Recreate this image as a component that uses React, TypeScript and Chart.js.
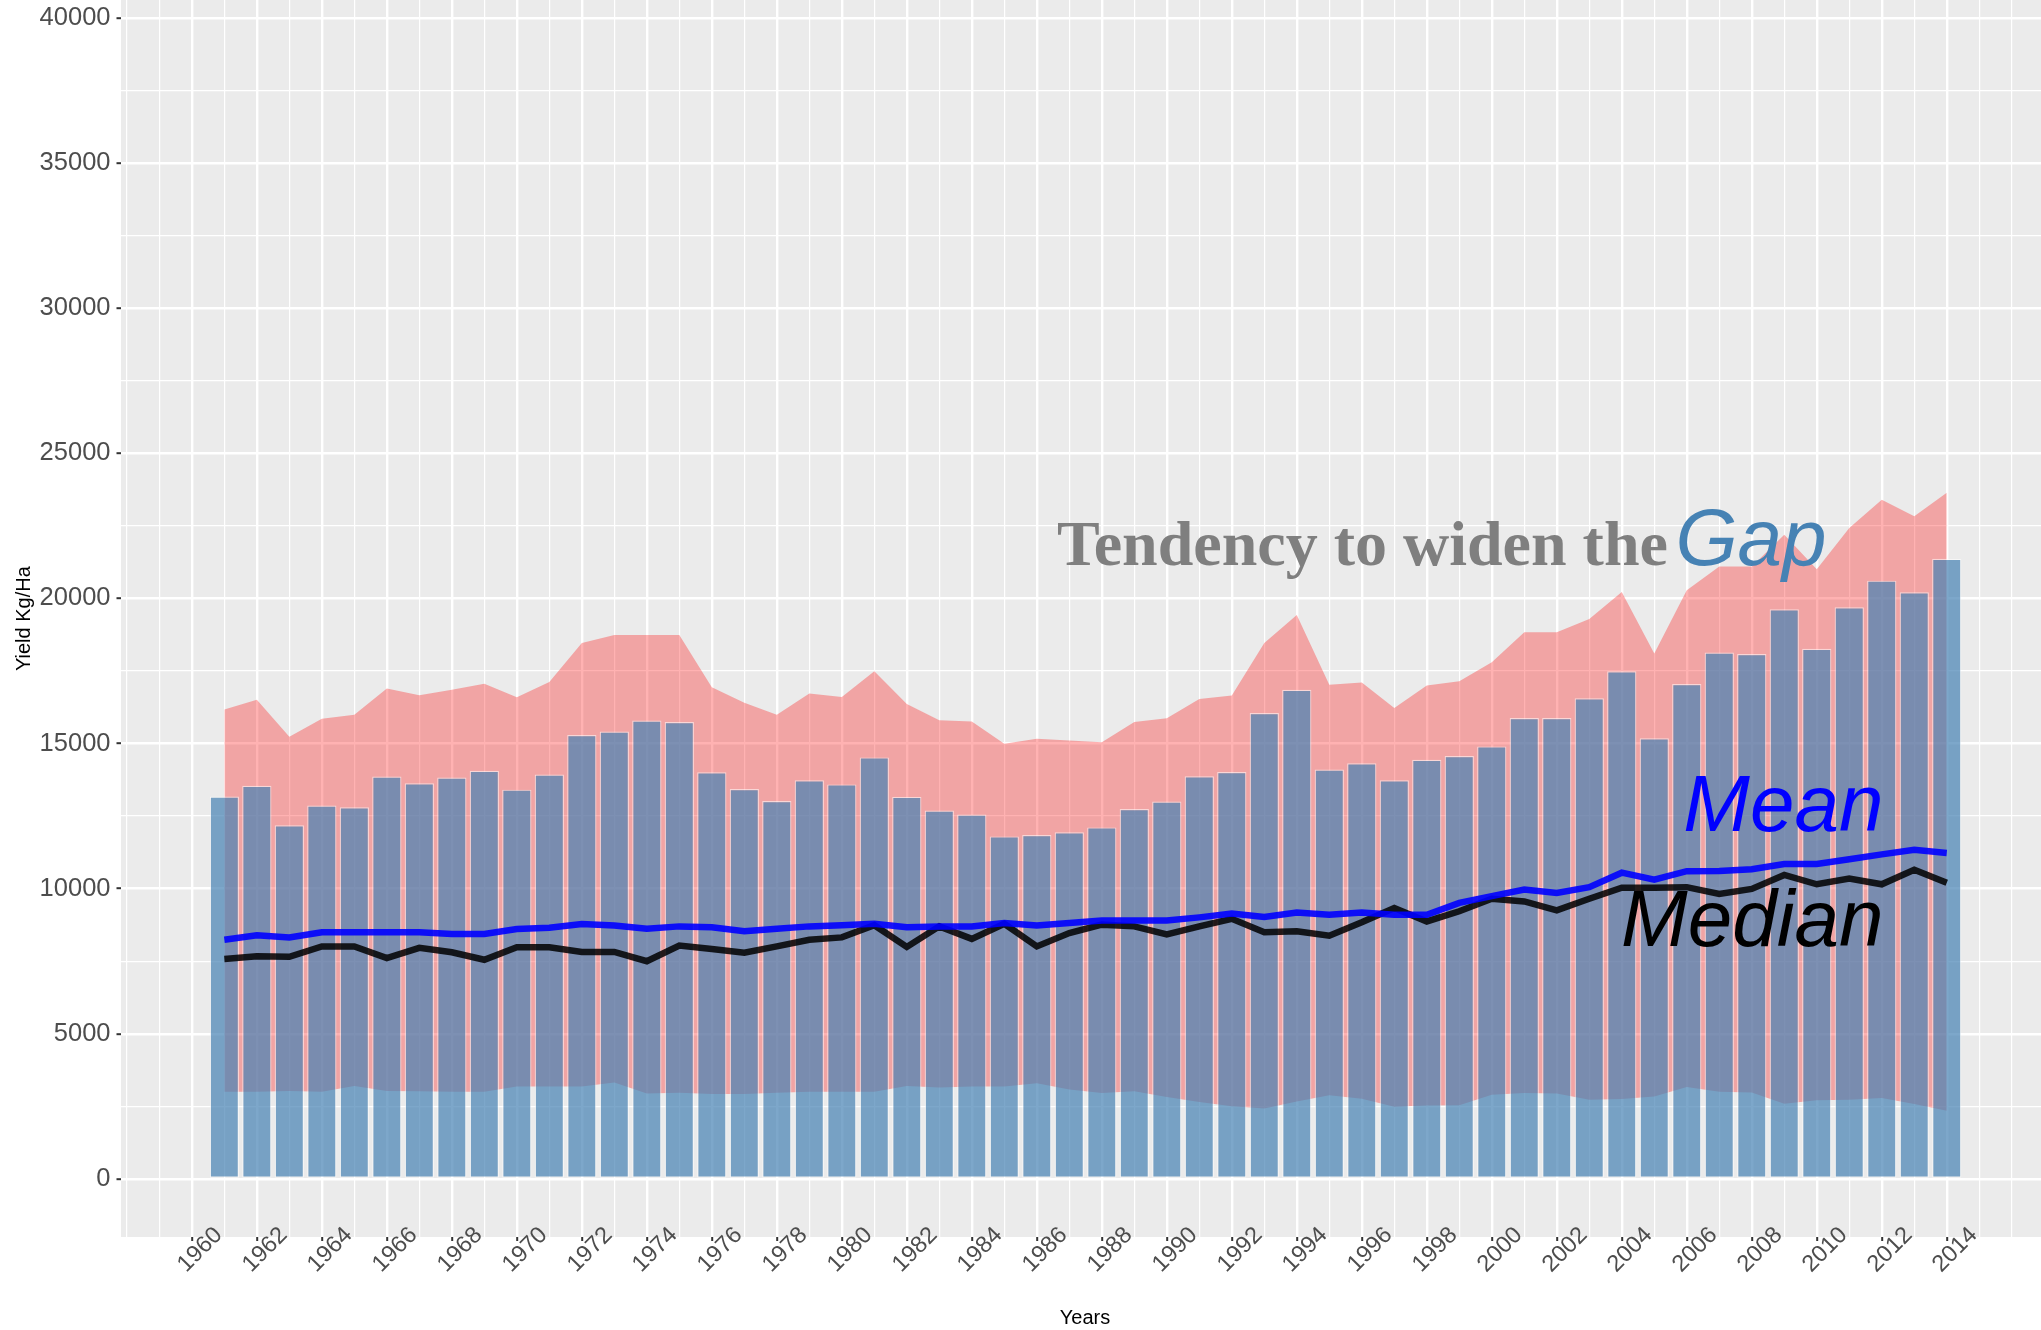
import React, { useEffect, useRef } from 'react';
import { Chart, registerables } from 'chart.js';

Chart.register(...registerables);

// ---- data ----
const years = [
  1961, 1962, 1963, 1964, 1965, 1966, 1967, 1968, 1969, 1970,
  1971, 1972, 1973, 1974, 1975, 1976, 1977, 1978, 1979, 1980,
  1981, 1982, 1983, 1984, 1985, 1986, 1987, 1988, 1989, 1990,
  1991, 1992, 1993, 1994, 1995, 1996, 1997, 1998, 1999, 2000,
  2001, 2002, 2003, 2004, 2005, 2006, 2007, 2008, 2009, 2010,
  2011, 2012, 2013, 2014,
];

const barYield = [
  13170, 13540, 12180, 12860, 12800, 13860, 13630, 13830, 14060, 13410,
  13930, 15290, 15410, 15790, 15740, 14010, 13430, 13020, 13730, 13590,
  14520, 13160, 12690, 12550, 11800, 11850, 11940, 12110, 12740, 13000,
  13870, 14020, 16050, 16850, 14100, 14320, 13730, 14440, 14570, 14900,
  15880, 15880, 16560, 17490, 15180, 17050, 18130, 18080, 19620, 18260,
  19690, 20610, 20210, 21360,
];

const upperYield = [
  16170, 16510, 15230, 15850, 15990, 16890, 16660, 16850, 17060, 16590,
  17120, 18460, 18740, 18740, 18740, 16940, 16400, 15990, 16720, 16600,
  17490, 16360, 15800, 15760, 14990, 15160, 15100, 15040, 15740, 15870,
  16530, 16650, 18460, 19430, 17020, 17100, 16220, 17000, 17140, 17800,
  18830, 18830, 19290, 20220, 18100, 20280, 21100, 21100, 22190, 21000,
  22420, 23400, 22830, 23640,
];

const lowerYield = [
  3000, 3000, 3030, 3000, 3200, 3030, 3020, 3000, 3000, 3180,
  3180, 3180, 3320, 2940, 2970, 2930, 2930, 2970, 3000, 3000,
  3000, 3200, 3150, 3180, 3180, 3300, 3080, 2960, 3020, 2820,
  2650, 2500, 2430, 2670, 2880, 2760, 2490, 2530, 2540, 2900,
  2960, 2940, 2730, 2750, 2840, 3170, 3000, 2980, 2590, 2710,
  2730, 2790, 2580, 2350,
];

const meanYield = [
  8240, 8390, 8320, 8500, 8500, 8500, 8500, 8440, 8440, 8610,
  8650, 8780, 8730, 8620, 8700, 8670, 8530, 8620, 8700, 8740,
  8790, 8670, 8700, 8700, 8820, 8730, 8820, 8900, 8900, 8900,
  9010, 9140, 9020, 9180, 9100, 9180, 9100, 9100, 9510, 9740,
  9970, 9850, 10050, 10550, 10310, 10600, 10610, 10670, 10850, 10850,
  11010, 11180, 11340, 11230,
];

const medianYield = [
  7580, 7670, 7650, 8010, 8010, 7610, 7960, 7810, 7550, 7980,
  7980, 7820, 7820, 7500, 8040, 7920, 7790, 8010, 8240, 8320,
  8740, 7990, 8700, 8270, 8790, 8010, 8470, 8760, 8700, 8420,
  8700, 8960, 8500, 8530, 8380, 8840, 9330, 8870, 9220, 9650,
  9560, 9250, 9650, 10030, 10030, 10050, 9820, 9990, 10470, 10150,
  10350, 10150, 10650, 10200,
];

// axis breaks
const xMajorYears = [
  1960, 1962, 1964, 1966, 1968, 1970, 1972, 1974, 1976, 1978,
  1980, 1982, 1984, 1986, 1988, 1990, 1992, 1994, 1996, 1998,
  2000, 2002, 2004, 2006, 2008, 2010, 2012, 2014,
];
const xGridYears = Array.from({ length: 59 }, (_, i) => 1958 + i);
const yMajorTicks = [0, 5000, 10000, 15000, 20000, 25000, 30000, 35000, 40000];
const yGridTicks = Array.from({ length: 17 }, (_, i) => i * 2500);

const X_MIN = 1957.82;
const X_MAX = 2016.9;
const Y_MIN = -2000;
const Y_MAX = 40611;

const SANS = '"Liberation Sans", Arial, Helvetica, sans-serif';
const SERIF = '"Liberation Serif", "Times New Roman", serif';

const pts = (vals: number[]) => years.map((y, i) => ({ x: y, y: vals[i] }));

const panelBackground = {
  id: 'panelBackground',
  beforeDraw(chart: any) {
    const { ctx, chartArea: a } = chart;
    ctx.save();
    ctx.fillStyle = '#FFFFFF';
    ctx.fillRect(0, 0, chart.width, chart.height);
    ctx.fillStyle = '#EBEBEB';
    ctx.fillRect(a.left, a.top, a.right - a.left, a.bottom - a.top);
    ctx.restore();
  },
};

const annotations = {
  id: 'annotations',
  afterDatasetsDraw(chart: any) {
    const { ctx } = chart;
    const xs = chart.scales.x;
    const ys = chart.scales.y;
    ctx.save();
    ctx.textBaseline = 'alphabetic';

    ctx.font = `bold 64px ${SERIF}`;
    ctx.fillStyle = '#7F7F7F';
    ctx.textAlign = 'right';
    ctx.fillText('Tendency to widen the', xs.getPixelForValue(2005.42), ys.getPixelForValue(21160));

    ctx.font = `italic 80px ${SANS}`;
    ctx.fillStyle = '#4682B4';
    ctx.textAlign = 'left';
    ctx.fillText('Gap', xs.getPixelForValue(2005.65), ys.getPixelForValue(21160));

    ctx.font = `italic 80px ${SANS}`;
    ctx.textAlign = 'right';
    ctx.fillStyle = '#0000FF';
    ctx.fillText('Mean', xs.getPixelForValue(2012.05), ys.getPixelForValue(11970));

    ctx.fillStyle = '#000000';
    ctx.fillText('Median', xs.getPixelForValue(2012.05), ys.getPixelForValue(8010));
    ctx.restore();
  },
  afterDraw(chart: any) {
    const { ctx, chartArea: a } = chart;
    const xs = chart.scales.x;
    const ys = chart.scales.y;
    ctx.save();
    // rotated x tick labels
    ctx.font = `23.5px ${SANS}`;
    ctx.fillStyle = '#4D4D4D';
    ctx.textAlign = 'center';
    ctx.textBaseline = 'middle';
    xMajorYears.forEach((yr) => {
      const px = xs.getPixelForValue(yr);
      ctx.save();
      ctx.translate(px + 8.3, a.bottom + 13);
      ctx.rotate(-Math.PI / 4);
      ctx.fillText(String(yr), 0, 0);
      ctx.restore();
    });
    // axis titles
    ctx.fillStyle = '#000000';
    ctx.font = `20px ${SANS}`;
    ctx.textAlign = 'center';
    ctx.textBaseline = 'alphabetic';
    ctx.fillText('Years', xs.getPixelForValue((X_MIN + 2017.15) / 2), 1324);
    ctx.save();
    ctx.translate(30, ys.getPixelForValue(19300));
    ctx.rotate(-Math.PI / 2);
    ctx.fillText('Yield Kg/Ha', 0, 0);
    ctx.restore();
    ctx.restore();
  },
};

const isMajorX = (v: number) => v >= 1960 && v <= 2014 && v % 2 === 0;
const isMajorY = (v: number) => yMajorTicks.includes(v);

export default function App() {
  const ref = useRef<HTMLCanvasElement | null>(null);

  useEffect(() => {
    if (!ref.current) return;
    const chart = new Chart(ref.current, {
      type: 'bar',
      data: {
        datasets: [
          {
            type: 'line',
            label: 'lower',
            data: pts(lowerYield),
            borderColor: 'rgba(0,0,0,0)',
            borderWidth: 0,
            pointRadius: 0,
            fill: false,
            order: 4,
          } as any,
          {
            type: 'line',
            label: 'range',
            data: pts(upperYield),
            borderColor: 'rgba(0,0,0,0)',
            borderWidth: 0,
            pointRadius: 0,
            backgroundColor: 'rgba(255,0,0,0.3)',
            fill: '-1',
            order: 3,
          } as any,
          {
            type: 'bar',
            label: 'yield',
            data: pts(barYield),
            backgroundColor: 'rgba(70,130,180,0.7)',
            borderColor: 'rgba(255,255,255,0.55)',
            borderWidth: 1.2,
            borderSkipped: false,
            categoryPercentage: 1,
            barPercentage: 0.9,
            order: 2,
          } as any,
          {
            type: 'line',
            label: 'median',
            data: pts(medianYield),
            borderColor: 'rgba(0,0,0,0.85)',
            borderWidth: 6.5,
            pointRadius: 0,
            fill: false,
            tension: 0,
            order: 1,
          } as any,
          {
            type: 'line',
            label: 'mean',
            data: pts(meanYield),
            borderColor: 'rgba(0,0,255,0.9)',
            borderWidth: 6.5,
            pointRadius: 0,
            fill: false,
            tension: 0,
            order: 0,
          } as any,
        ],
      },
      options: {
        responsive: false,
        animation: false,
        devicePixelRatio: 1,
        layout: { padding: 0 },
        plugins: {
          legend: { display: false },
          tooltip: { enabled: false },
          title: { display: false },
        },
        scales: {
          x: {
            type: 'linear',
            min: X_MIN,
            max: X_MAX,
            offset: false,
            afterBuildTicks: (scale: any) => {
              scale.ticks = xGridYears.map((v) => ({ value: v }));
            },
            afterFit: (scale: any) => {
              scale.height = 93;
              scale.paddingLeft = 0;
              scale.paddingRight = 0;
              scale.paddingTop = 0;
              scale.paddingBottom = 0;
            },
            ticks: { display: false },
            border: { display: false },
            grid: {
              offset: false,
              color: '#FFFFFF',
              lineWidth: (c: any) => (c.tick && isMajorX(c.tick.value) ? 2.4 : 1.2),
              drawTicks: true,
              tickLength: 4,
              tickWidth: 2,
              tickColor: (c: any) => (c.tick && isMajorX(c.tick.value) ? '#333333' : 'rgba(0,0,0,0)'),
            },
          },
          y: {
            type: 'linear',
            min: Y_MIN,
            max: Y_MAX,
            afterBuildTicks: (scale: any) => {
              scale.ticks = yGridTicks.map((v) => ({ value: v }));
            },
            afterFit: (scale: any) => {
              scale.width = 121;
              scale.paddingTop = 0;
              scale.paddingBottom = 0;
              scale.paddingLeft = 0;
              scale.paddingRight = 0;
            },
            ticks: {
              autoSkip: false,
              padding: 6,
              color: '#4D4D4D',
              font: { family: SANS, size: 25.5 },
              callback: (v: any) => (isMajorY(Number(v)) ? String(v) : ''),
            },
            border: { display: false },
            grid: {
              color: '#FFFFFF',
              lineWidth: (c: any) => (c.tick && isMajorY(c.tick.value) ? 2.4 : 1.2),
              drawTicks: true,
              tickLength: 4.5,
              tickWidth: 2,
              tickColor: (c: any) => (c.tick && isMajorY(c.tick.value) ? '#333333' : 'rgba(0,0,0,0)'),
            },
          },
        },
      } as any,
      plugins: [panelBackground, annotations],
    });
    return () => chart.destroy();
  }, []);

  return (
    <div style={{ position: 'fixed', left: 0, top: 0, width: 2041, height: 1330, background: '#fff' }}>
      <canvas ref={ref} width={2041} height={1330} style={{ display: 'block', width: 2041, height: 1330 }} />
    </div>
  );
}
